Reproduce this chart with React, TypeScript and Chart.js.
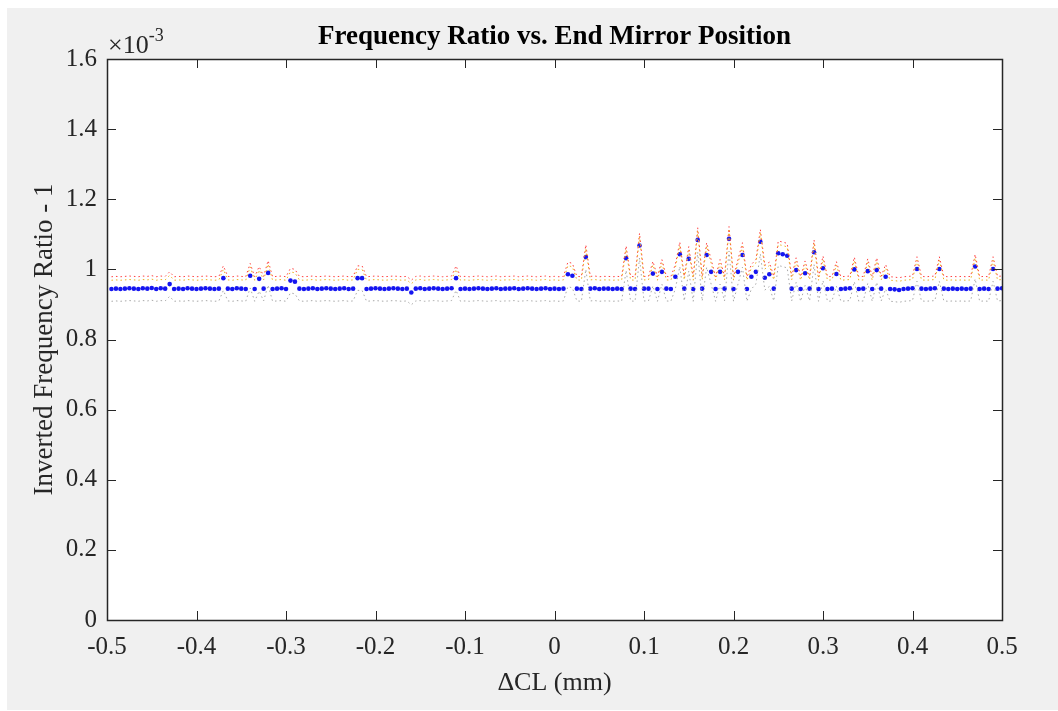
import React, { useEffect, useRef } from "react";
import { Chart, registerables } from "chart.js";

Chart.register(...registerables);

// ΔCL positions (mm)
const deltaCL: number[] = [
  -0.495, -0.49, -0.485, -0.48, -0.475, -0.47, -0.465, -0.46, -0.455, -0.45, -0.445, -0.44, -0.435, -0.43, -0.425, -0.42, -0.415, -0.41, -0.405, -0.4,
  -0.395, -0.39, -0.385, -0.38, -0.375, -0.37, -0.365, -0.36, -0.355, -0.35, -0.345, -0.34, -0.335, -0.33, -0.325, -0.32, -0.315, -0.31, -0.305, -0.3,
  -0.295, -0.29, -0.285, -0.28, -0.275, -0.27, -0.265, -0.26, -0.255, -0.25, -0.245, -0.24, -0.235, -0.23, -0.225, -0.22, -0.215, -0.21, -0.205, -0.2,
  -0.195, -0.19, -0.185, -0.18, -0.175, -0.17, -0.165, -0.16, -0.155, -0.15, -0.145, -0.14, -0.135, -0.13, -0.125, -0.12, -0.115, -0.11, -0.105, -0.1,
  -0.095, -0.09, -0.085, -0.08, -0.075, -0.07, -0.065, -0.06, -0.055, -0.05, -0.045, -0.04, -0.035, -0.03, -0.025, -0.02, -0.015, -0.01, -0.005, 0.0,
  0.005, 0.01, 0.015, 0.02, 0.025, 0.03, 0.035, 0.04, 0.045, 0.05, 0.055, 0.06, 0.065, 0.07, 0.075, 0.08, 0.085, 0.09, 0.095, 0.1,
  0.105, 0.11, 0.115, 0.12, 0.125, 0.13, 0.135, 0.14, 0.145, 0.15, 0.155, 0.16, 0.165, 0.17, 0.175, 0.18, 0.185, 0.19, 0.195, 0.2,
  0.205, 0.21, 0.215, 0.22, 0.225, 0.23, 0.235, 0.24, 0.245, 0.25, 0.255, 0.26, 0.265, 0.27, 0.275, 0.28, 0.285, 0.29, 0.295, 0.3,
  0.305, 0.31, 0.315, 0.32, 0.325, 0.33, 0.335, 0.34, 0.345, 0.35, 0.355, 0.36, 0.365, 0.37, 0.375, 0.38, 0.385, 0.39, 0.395, 0.4,
  0.405, 0.41, 0.415, 0.42, 0.425, 0.43, 0.435, 0.44, 0.445, 0.45, 0.455, 0.46, 0.465, 0.47, 0.475, 0.48, 0.485, 0.49, 0.495, 0.5,
];

// Inverted frequency ratio - 1, in units of 1e-3
const ratioValues: number[] = [
  0.944, 0.945, 0.944, 0.945, 0.946, 0.945, 0.944, 0.946, 0.945, 0.947, 0.944, 0.946, 0.945, 0.958, 0.944, 0.945, 0.944, 0.946, 0.945, 0.944,
  0.945, 0.946, 0.945, 0.944, 0.945, 0.975, 0.945, 0.944, 0.946, 0.945, 0.944, 0.982, 0.944, 0.973, 0.945, 0.99, 0.944, 0.945, 0.946, 0.944,
  0.968, 0.965, 0.945, 0.944, 0.945, 0.946, 0.944, 0.945, 0.946, 0.945, 0.944, 0.945, 0.946, 0.944, 0.945, 0.975, 0.975, 0.944, 0.945, 0.946,
  0.945, 0.944, 0.945, 0.946, 0.945, 0.944, 0.945, 0.934, 0.945, 0.946, 0.944, 0.945, 0.946, 0.945, 0.944, 0.945, 0.946, 0.975, 0.944, 0.945,
  0.944, 0.945, 0.946, 0.945, 0.944, 0.945, 0.946, 0.944, 0.945, 0.945, 0.946, 0.944, 0.945, 0.946, 0.945, 0.944, 0.945, 0.946, 0.944, 0.945,
  0.944, 0.945, 0.986, 0.982, 0.945, 0.944, 1.035, 0.945, 0.946, 0.944, 0.945, 0.945, 0.944, 0.945, 0.944, 1.032, 0.945, 0.944, 1.068, 0.945,
  0.945, 0.988, 0.944, 0.993, 0.945, 0.944, 0.979, 1.043, 0.945, 1.03, 0.944, 1.084, 0.945, 1.041, 0.993, 0.944, 0.993, 0.945, 1.087, 0.944,
  0.993, 1.041, 0.944, 0.979, 0.993, 1.079, 0.976, 0.986, 0.945, 1.046, 1.043, 1.039, 0.945, 0.998, 0.944, 0.989, 0.945, 1.049, 0.944, 1.003,
  0.944, 0.945, 0.987, 0.944, 0.945, 0.946, 1.0, 0.944, 0.945, 0.995, 0.944, 0.998, 0.945, 0.979, 0.944, 0.943, 0.941, 0.944, 0.945, 0.946,
  1.001, 0.945, 0.944, 0.945, 0.946, 1.001, 0.945, 0.944, 0.945, 0.944, 0.945, 0.944, 0.945, 1.008, 0.944, 0.945, 0.944, 1.001, 0.945, 0.946,
];

// Uncertainty half-widths (units of 1e-3) for the dotted bound lines
const upperRedOffset = 0.035;
const upperYellowOffset = 0.025;
const lowerGreyOffset = 0.035;

const xTicks: number[] = [-0.5, -0.4, -0.3, -0.2, -0.1, 0, 0.1, 0.2, 0.3, 0.4, 0.5];
const yTicks: number[] = [0, 0.2, 0.4, 0.6, 0.8, 1.0, 1.2, 1.4, 1.6];

const TITLE = "Frequency Ratio vs. End Mirror Position";
const FONT = "'Liberation Serif', 'Times New Roman', serif";
const TEXT = "#262626";

const fmt = (v: number) => String(Number(v.toFixed(2)));

const figurePlugin = {
  id: "figure",
  beforeDraw(chart: any) {
    const { ctx, chartArea } = chart;
    ctx.save();
    ctx.fillStyle = "#f0f0f0";
    ctx.fillRect(7, 8, chart.width - 7, chart.height - 9);
    ctx.fillStyle = "#ffffff";
    ctx.fillRect(chartArea.left, chartArea.top, chartArea.right - chartArea.left, chartArea.bottom - chartArea.top);
    ctx.restore();
  },
  afterDraw(chart: any) {
    const { ctx, chartArea, scales } = chart;
    const { left, right, top, bottom } = chartArea;
    const tl = 9;
    ctx.save();
    ctx.strokeStyle = TEXT;
    ctx.lineWidth = 1;
    ctx.beginPath();
    for (const v of xTicks) {
      const px = Math.round(scales.x.getPixelForValue(v)) + 0.5;
      ctx.moveTo(px, bottom);
      ctx.lineTo(px, bottom - tl);
      ctx.moveTo(px, top);
      ctx.lineTo(px, top + tl);
    }
    for (const v of yTicks) {
      const py = Math.round(scales.y.getPixelForValue(v)) + 0.5;
      ctx.moveTo(left, py);
      ctx.lineTo(left + tl, py);
      ctx.moveTo(right, py);
      ctx.lineTo(right - tl, py);
    }
    ctx.stroke();
    ctx.lineWidth = 1.5;
    ctx.strokeRect(Math.round(left) + 0.5, Math.round(top) + 0.5, Math.round(right - left), Math.round(bottom - top));
    // title centred over the axes
    ctx.fillStyle = "#000000";
    ctx.textAlign = "center";
    ctx.textBaseline = "middle";
    ctx.font = `bold 27px ${FONT}`;
    ctx.fillText(TITLE, (left + right) / 2, 37);
    // exponent label
    ctx.fillStyle = TEXT;
    ctx.textBaseline = "alphabetic";
    ctx.textAlign = "left";
    ctx.font = `26px ${FONT}`;
    const base = "\u00d710";
    ctx.fillText(base, left + 1, top - 6);
    const w = ctx.measureText(base).width;
    ctx.font = `18px ${FONT}`;
    ctx.fillText("-3", left + 1 + w, top - 18);
    ctx.restore();
  },
};

export default function App() {
  const canvasRef = useRef<HTMLCanvasElement | null>(null);

  useEffect(() => {
    if (!canvasRef.current) return;
    const pts = (off: number) => deltaCL.map((x, i) => ({ x, y: ratioValues[i] + off }));
    const chart = new Chart(canvasRef.current, {
      type: "scatter",
      data: {
        datasets: [
          {
            data: pts(-lowerGreyOffset),
            showLine: true,
            borderColor: "#a8a8a8",
            borderWidth: 1,
            borderDash: [1.5, 3],
            pointRadius: 0,
          },
          {
            data: pts(upperYellowOffset),
            showLine: true,
            borderColor: "#edb120",
            borderWidth: 1,
            borderDash: [1.5, 3],
            pointRadius: 0,
          },
          {
            data: pts(upperRedOffset),
            showLine: true,
            borderColor: "#ff4040",
            borderWidth: 1,
            borderDash: [1.5, 3],
            pointRadius: 0,
          },
          {
            data: pts(0),
            showLine: false,
            pointRadius: 2.3,
            pointBackgroundColor: "#1515f0",
            pointBorderColor: "#1515f0",
            pointBorderWidth: 0,
          },
        ],
      },
      options: {
        responsive: false,
        animation: false,
        events: [],
        layout: { padding: { left: 0, right: 56, top: 59, bottom: 0 } },
        plugins: {
          legend: { display: false },
          tooltip: { enabled: false },
          title: { display: false },
        },
        scales: {
          x: {
            type: "linear",
            min: -0.5,
            max: 0.5,
            afterFit: (s: any) => {
              s.height = 91;
            },
            afterBuildTicks: (s: any) => {
              s.ticks = xTicks.map((v) => ({ value: v }));
            },
            grid: { display: false, drawTicks: false },
            border: { display: false },
            ticks: {
              padding: 12,
              maxRotation: 0,
              autoSkip: false,
              color: TEXT,
              font: { family: FONT, size: 25 },
              callback: (v: any) => fmt(Number(v)),
            },
            title: {
              display: true,
              text: "\u0394CL (mm)",
              color: TEXT,
              font: { family: FONT, size: 26, lineHeight: 1.2 },
              padding: { top: 0, bottom: 12 },
            },
          },
          y: {
            type: "linear",
            min: 0,
            max: 1.6,
            afterFit: (s: any) => {
              s.width = 107;
            },
            afterBuildTicks: (s: any) => {
              s.ticks = yTicks.map((v) => ({ value: v }));
            },
            grid: { display: false, drawTicks: false },
            border: { display: false },
            ticks: {
              padding: 10,
              autoSkip: false,
              color: TEXT,
              font: { family: FONT, size: 25 },
              callback: (v: any) => fmt(Number(v)),
            },
            title: {
              display: true,
              text: "Inverted Frequency Ratio - 1",
              color: TEXT,
              font: { family: FONT, size: 27, lineHeight: 1.2 },
              padding: { top: 29, bottom: 0 },
            },
          },
        },
      },
      plugins: [figurePlugin],
    });
    return () => chart.destroy();
  }, []);

  return (
    <div style={{ position: "absolute", left: 0, top: 0, width: 1058, height: 711 }}>
      <canvas ref={canvasRef} width={1058} height={711} />
    </div>
  );
}
